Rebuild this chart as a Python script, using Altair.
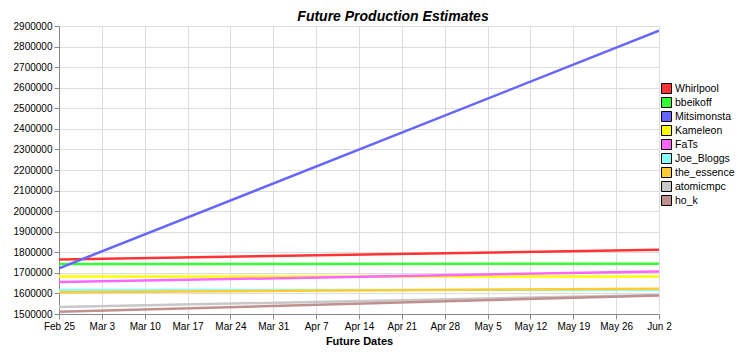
import altair as alt
import pandas as pd

series = ["Whirlpool", "bbeikoff", "Mitsimonsta", "Kameleon", "FaTs",
          "Joe_Bloggs", "the_essence", "atomicmpc", "ho_k"]
colors = ["#FF3333", "#33FF33", "#6666FF", "#FFFF00", "#FF66FF",
          "#88FFFF", "#FFCC33", "#C8C8C8", "#C09090"]
start_values = [1765000, 1743000, 1722000, 1682000, 1655000,
                1617000, 1606000, 1534000, 1511000]
end_values = [1812000, 1744000, 2877000, 1682000, 1707000,
              1617000, 1623000, 1592000, 1590000]
start_date = "2008-02-25T00:00:00"
end_date = "2008-06-02T00:00:00"
tick_dates = pd.date_range("2008-02-25", "2008-06-02", freq="7D")
y_ticks = list(range(1500000, 2900001, 100000))

rows = []
for s, a, b in zip(series, start_values, end_values):
    rows.append({"series": s, "date": start_date, "value": a})
    rows.append({"series": s, "date": end_date, "value": b})
df = pd.DataFrame(rows)

FONT = "Liberation Sans"

x_enc = alt.X("date:T",
              scale=alt.Scale(domain=[alt.DateTime(year=2008, month=2, date=25),
                                      alt.DateTime(year=2008, month=6, date=2)]),
              axis=alt.Axis(values=[alt.DateTime(year=d.year, month=d.month, date=d.day) for d in tick_dates],
                            format="%b %-d", title="Future Dates", labelFlush=False))
y_enc = alt.Y("value:Q",
              scale=alt.Scale(domain=[1500000, 2900000], nice=False, zero=False),
              axis=alt.Axis(values=y_ticks, format="d", title=None))

lines = alt.Chart(df).mark_line(strokeWidth=2.5, clip=True).encode(
    x=x_enc, y=y_enc,
    stroke=alt.Stroke("series:N", scale=alt.Scale(domain=series, range=colors),
                      sort=series, legend=None),
)

legend_marks = alt.Chart(df).mark_square(filled=True, opacity=0, stroke="black",
                                         strokeWidth=1, clip=True).encode(
    x=x_enc, y=y_enc,
    fill=alt.Fill("series:N", scale=alt.Scale(domain=series, range=colors),
                  sort=series,
                  legend=alt.Legend(
                      title=None, orient="none", legendX=602, legendY=57,
                      symbolType="square", symbolSize=100,
                      symbolStrokeColor="black", symbolStrokeWidth=1,
                      symbolOpacity=1,
                      labelFontSize=10.5, labelFont=FONT, labelColor="black",
                      labelOffset=3, rowPadding=-1, padding=0)),
)

chart = alt.layer(lines, legend_marks).resolve_scale(
    stroke="independent", fill="independent"
).properties(
    width=600, height=288,
    title=alt.TitleParams("Future Production Estimates", fontSize=14,
                          fontWeight="bold", fontStyle="italic", font=FONT,
                          anchor="middle", dx=34, dy=5, offset=2, color="black"),
    autosize=alt.AutoSizeParams(type="none"),
    padding={"left": 51, "top": 18, "right": 78, "bottom": 34},
).configure_view(
    stroke="black", strokeWidth=1
).configure_axis(
    labelFont=FONT, labelFontSize=11, labelColor="black",
    titleFont=FONT, titleFontSize=11, titleFontWeight="bold", titleColor="black",
    domainColor="black", tickColor="black", tickSize=4,
    gridColor="#BBBBBB", gridWidth=1, gridOpacity=1,
).configure_axisX(
    labelPadding=3, titlePadding=4
).configure_axisY(
    labelPadding=2
).configure(background="white")

chart.save("out.html", embed_options={"renderer": "svg", "actions": False})
